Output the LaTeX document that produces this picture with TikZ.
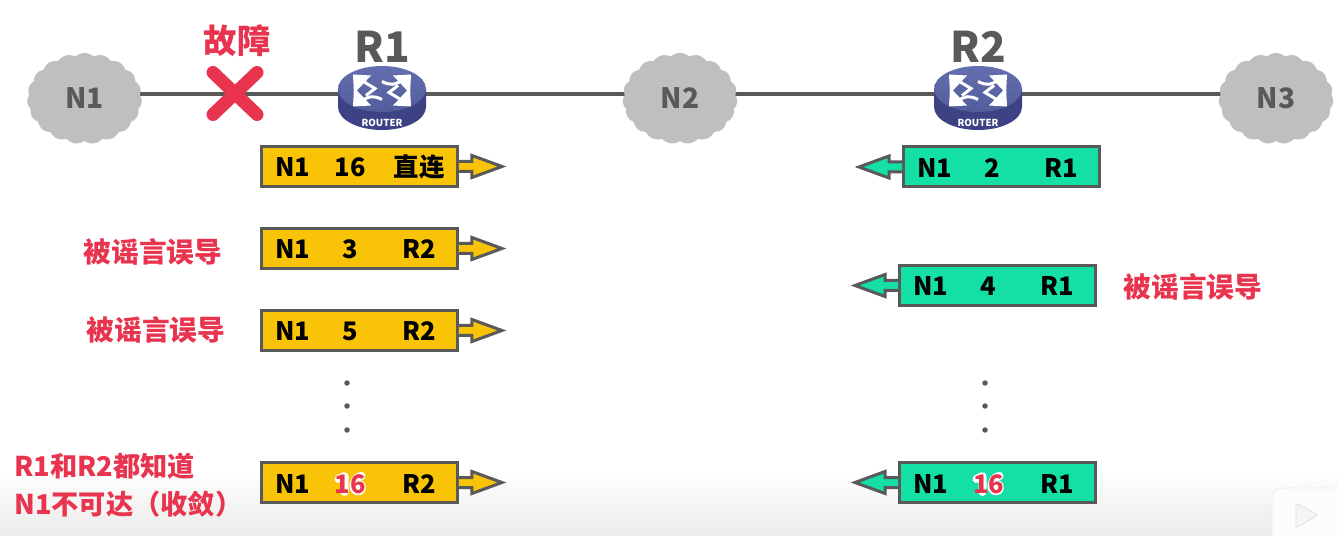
\documentclass[tikz,border=0pt]{standalone}
\usepackage{fontspec}
\setmainfont{Noto Sans CJK SC}
\usetikzlibrary{shapes.symbols,shapes.geometric,backgrounds,calc}
\definecolor{wiregray}{HTML}{595959}
\definecolor{cloudgray}{HTML}{BFBFBF}
\definecolor{alertred}{HTML}{E8344E}
\definecolor{msgamber}{HTML}{F9C307}
\definecolor{msggreen}{HTML}{14E0A6}
\definecolor{routertop}{HTML}{5C67AB}
\definecolor{routerside}{HTML}{3D4285}
\newcommand{\sizedfont}[1]{\fontsize{#1}{#1}\selectfont\bfseries}
\tikzset{
  netcloud/.style={cloud,cloud puffs=19,cloud puff arc=85,aspect=1.25,fill=cloudgray,text=wiregray,
    minimum width=2.3cm,minimum height=1.82cm,inner sep=0pt,font=\sizedfont{16}},
  wire/.style={draw=wiregray,line width=0.08cm},
  routernode/.style={ellipse,minimum width=1.76cm,minimum height=1.28cm,inner sep=0pt},
  routerlabel/.style={text=wiregray,inner sep=0pt,font=\sizedfont{24}},
  routertag/.style={text=white,inner sep=0pt,font=\sizedfont{5.5}},
  msgbox/.style={draw=wiregray,line width=0.06cm,minimum width=3.92cm,minimum height=0.8cm,inner sep=0pt},
  msgtail/.style={draw=wiregray,line width=0.06cm,line join=miter},
  msgtext/.style={anchor=base,inner sep=0pt,font=\sizedfont{14.5}},
  alerttext/.style={text=alertred,inner sep=0pt,font=\sizedfont{15.5}},
  glowline/.style={draw=white,line width=0.16cm,line cap=round,line join=round},
  dotmark/.style={circle,fill=wiregray,minimum size=0.11cm,inner sep=0pt},
  routericon/.pic={
    \fill[routerside] (-44,-5) -- (-44,13) arc[start angle=180,end angle=0,x radius=44,y radius=23] -- (44,-5) -- cycle;
    \shade[top color=routertop!95!white,bottom color=routertop!90!black] (0,-5) ellipse [x radius=44,y radius=23];
    \foreach \sgn in {-1,1} {
      \begin{scope}[shift={(0,-3.5)},scale=\sgn]
        \fill[white] (-29,-16) -- (-11,-15) -- (-28,3) -- cycle;
        \fill[white] (29,-16) -- (11,-15) -- (28,3) -- cycle;
        \draw[white,line width=0.06cm] (-22,-11) -- (-7,-2) -- (-16,5);
        \draw[white,line width=0.06cm] (22,-11) .. controls (12,-5) and (8,-5) .. (0,-9);
      \end{scope}
    }
    \node[routertag] (-tag) at (0,29) {ROUTER};
  }
}
\begin{document}
\begin{tikzpicture}[x=0.02cm,y=-0.02cm]
  \useasboundingbox (0,0) rectangle (1337,536);
  \def \Clouds {
    N1/84.5/98.5,
    N2/680/98.5,
    N3/1276/98.5}
  \def \Routers {
    R1/382,
    R2/978}
  \def \Messages {
    a1/359.5/166.5/16/直连/msgamber/east/1,
    a2/359.5/248.5/3/R2/msgamber/east/1,
    a3/359.5/330.5/5/R2/msgamber/east/1,
    a4/359.5/482.5//R2/msgamber/east/1,
    b1/1001.5/167/2/R1/msggreen/west/-1,
    b2/997.5/285.5/4/R1/msggreen/west/-1,
    b3/997.5/482.5//R1/msggreen/west/-1}
  \def \Alerts {
    fault/237/41/故障/19,
    misled1/153/252/被谣言误导/15.8,
    misled2/156/330/被谣言误导/15.8,
    misled3/1193/287/被谣言误导/15.8}

  \foreach \id / \x / \y in \Clouds {
    \node[netcloud] (\id) at (\x, \y) {\id};
  }
  \foreach \id / \x in \Routers {
    \node[routernode] (\id) at (\x, 94) {};
    \pic (\id) at (\x, 94) {routericon};
    \node[routerlabel] (\id-label) at (\x, 47) {\id};
  }
  \foreach \id / \x / \y / \dist / \via / \boxcol / \side / \dir in \Messages {
    \node[msgbox,fill=\boxcol] (\id) at (\x, \y) {};
    \draw[msgtail,fill=\boxcol] ([shift={(0,-5)}]\id.\side) -- ++(\dir*13,0) -- ++(0,-6) -- ++(\dir*30,11)
      -- ++(-\dir*30,11) -- ++(0,-6) -- ++(-\dir*13,0);
    \node[msgtext] (\id-net) at ([shift={(-66.5,10.5)}]\id.center) {N1};
    \node[msgtext] (\id-dist) at ([shift={(-9,10.5)}]\id.center) {\dist};
    \node[msgtext] (\id-via) at ([shift={(59.5,10.5)}]\id.center) {\via};
  }
  \foreach \id in {a4, b3} {
    \draw[glowline] ([shift={(-12,-14)}]\id-dist.base) -- ([shift={(-6,-17)}]\id-dist.base) -- ([shift={(-6,-1)}]\id-dist.base);
    \draw[glowline] ([shift={(11,-17)}]\id-dist.base) .. controls ([shift={(4,-16)}]\id-dist.base) and ([shift={(3,-10)}]\id-dist.base) .. ([shift={(3,-5)}]\id-dist.base);
    \draw[glowline,fill=white] ([shift={(7.5,-5.5)}]\id-dist.base) circle [radius=4];
    \node[msgtext,text=alertred] (\id-alert) at (\id-dist.base) {16};
  }
  \foreach \id / \x / \y / \txt / \size in \Alerts {
    \node[alerttext,font=\sizedfont{\size}] (\id) at (\x, \y) {\txt};
  }
  \node[alerttext,anchor=west] (known) at (14, 466) {R1和R2都知道};
  \node[alerttext,anchor=west] (unreach) at (14, 504) {N1不可达（收敛）};
  \foreach \id / \x / \y in {l1/347/383, l2/347/406, l3/347/430, r1/985/383, r2/985/406, r3/985/430} {
    \node[dotmark] (\id) at (\x, \y) {};
  }
  \coordinate (cross) at (235, 93.5);
  \draw[alertred,line width=0.26cm,line cap=round] ([shift={(-22,-21)}]cross) -- ([shift={(22,21)}]cross);
  \draw[alertred,line width=0.26cm,line cap=round] ([shift={(22,-21)}]cross) -- ([shift={(-22,21)}]cross);

  \begin{scope}[on background layer]
    \shade[top color=white,bottom color=black!8] (0,470) rectangle (1337,536);
    \foreach \a / \b in {N1/R1, R1/N2, N2/R2, R2/N3} {
      \path[wire] (\a |- R1) -- (\b |- R1);
    }
  \end{scope}

  \clip (0,0) rectangle (1337,536);
  \draw[black!8,line width=0.06cm,line cap=round] (1289,479) -- (1298,489) (1320,479) -- (1311,489);
  \draw[white,line width=0.05cm,line cap=round] (1289,479) -- (1298,489) (1320,479) -- (1311,489);
  \draw[black!8,fill=black!1,rounded corners=0.2cm] (1272,488) rectangle (1350,550);
  \draw[black!12,fill=black!4,line join=round,rounded corners=0.04cm] (1296,503) -- (1318,515) -- (1296,528) -- cycle;
\end{tikzpicture}
\end{document}
